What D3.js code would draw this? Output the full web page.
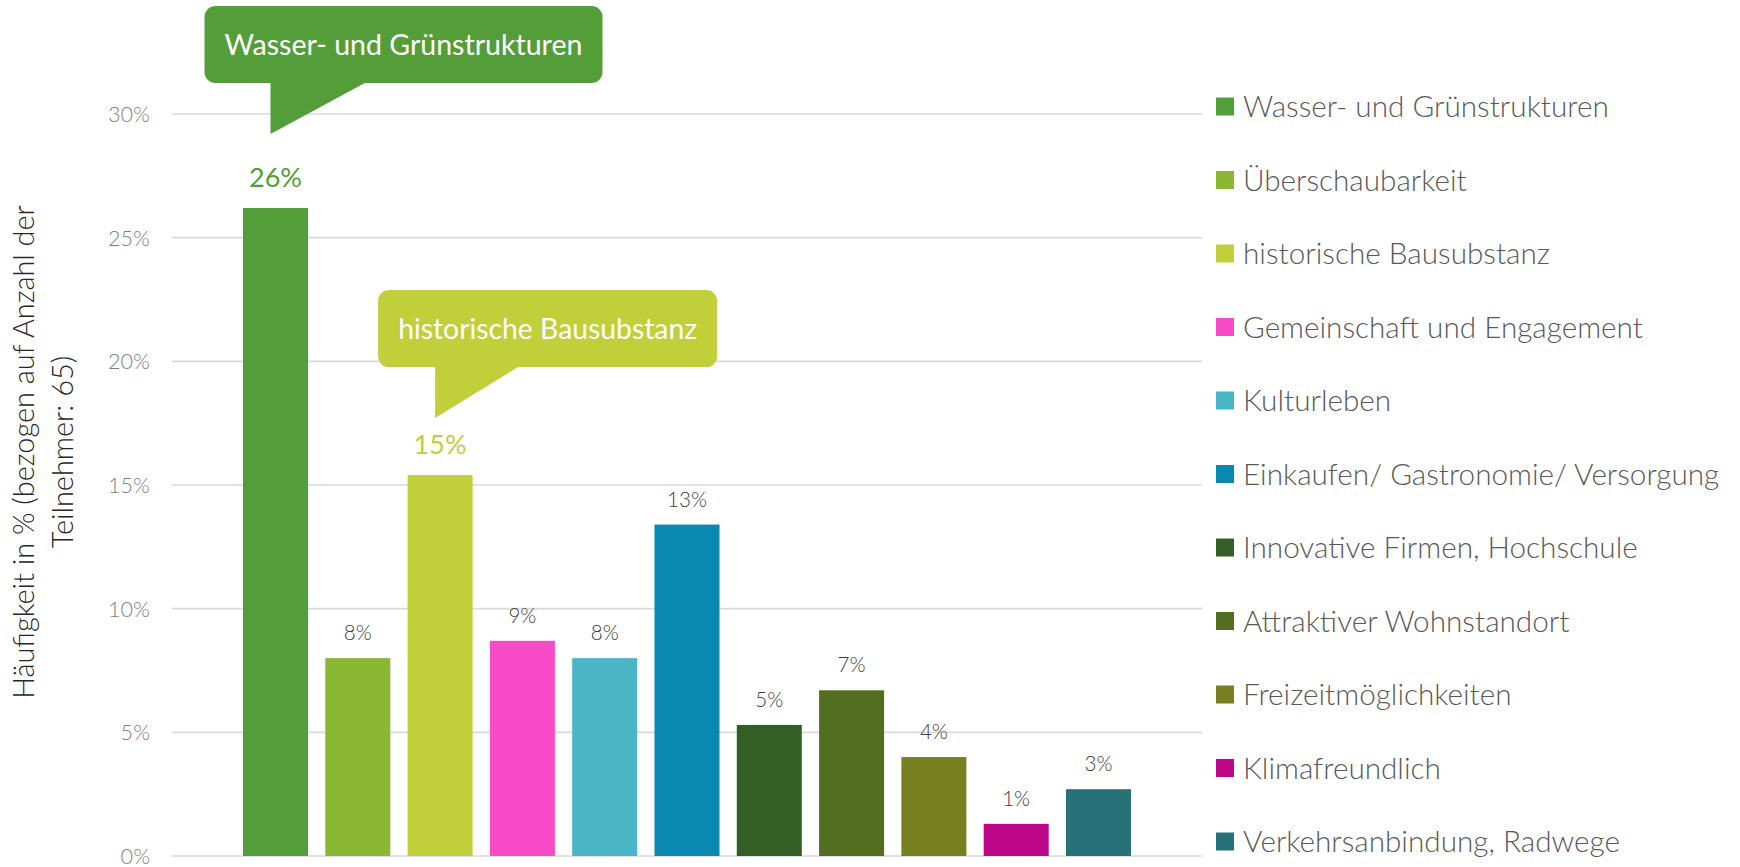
<!DOCTYPE html>
<html>
<head>
<meta charset="utf-8">
<script src="https://cdn.jsdelivr.net/npm/d3@7"></script>
<style>
  html, body { margin: 0; padding: 0; background: #ffffff; }
  svg { display: block; }
</style>
</head>
<body>
<svg id="chart" width="1740" height="867"></svg>
<script>
// ---- data ----
const categories = [
  "Wasser- und Grünstrukturen",
  "Überschaubarkeit",
  "historische Bausubstanz",
  "Gemeinschaft und Engagement",
  "Kulturleben",
  "Einkaufen/ Gastronomie/ Versorgung",
  "Innovative Firmen, Hochschule",
  "Attraktiver Wohnstandort",
  "Freizeitmöglichkeiten",
  "Klimafreundlich",
  "Verkehrsanbindung, Radwege"
];
const values = [26.2, 8.0, 15.4, 8.7, 8.0, 13.4, 5.3, 6.7, 4.0, 1.3, 2.7];
const labels = ["26%", "8%", "15%", "9%", "8%", "13%", "5%", "7%", "4%", "1%", "3%"];
const colors = ["#549E39", "#8AB833", "#C0CF3A", "#F94BC7", "#4AB5C4", "#0989B1",
                "#335E24", "#536E21", "#768021", "#BC0788", "#277179"];
const yTicks = [0, 5, 10, 15, 20, 25, 30];
const yTickLabels = ["0%", "5%", "10%", "15%", "20%", "25%", "30%"];
const highlighted = [0, 2];
const yTitleLines = ["Häufigkeit in % (bezogen auf Anzahl der", "Teilnehmer: 65)"];

// ---- layout ----
const svg = d3.select("#chart");
const FONT = "Lato, 'Open Sans', sans-serif";

const y = d3.scaleLinear().domain([0, 30]).range([856, 114]);
const x = d3.scaleBand().domain(categories).range([243, 1131]).paddingInner(0.21).paddingOuter(0);

function fitSize(sel, base, target) {
  const w = sel.node().getComputedTextLength();
  const s = base * target / w;
  sel.attr("font-size", s);
  return s;
}

// gridlines
const grid = svg.append("g").attr("class", "grid");
grid.selectAll("line").data(yTicks).join("line")
  .attr("x1", 172).attr("x2", 1202)
  .attr("y1", d => y(d)).attr("y2", d => y(d))
  .attr("stroke", "#D9D9D9").attr("stroke-width", 1.6);

// y axis tick labels using d3 axis
const yAxis = d3.axisLeft(y).tickValues(yTicks).tickFormat((d, i) => yTickLabels[i]).tickSize(0).tickPadding(0);
const ga = svg.append("g").attr("transform", "translate(150,0)").call(yAxis);
ga.select(".domain").remove();
ga.selectAll("text").attr("font-family", FONT).attr("font-weight", 300)
  .attr("fill", "#7F7F7F").attr("font-size", 21).attr("dy", "0.35em");
{
  const t = ga.selectAll("text").filter((d) => d === 30);
  const s = fitSize(t, 21, 42);
  ga.selectAll("text").attr("font-size", s);
}

// bars
svg.append("g").selectAll("rect").data(values).join("rect")
  .attr("x", (d, i) => x(categories[i]))
  .attr("width", x.bandwidth())
  .attr("y", d => y(d))
  .attr("height", d => y(0) - y(d))
  .attr("fill", (d, i) => colors[i]);

// data labels
const dl = svg.append("g").selectAll("text").data(values).join("text")
  .attr("x", (d, i) => x(categories[i]) + x.bandwidth() / 2)
  .attr("y", (d, i) => y(d) - (highlighted.includes(i) ? 21 : 18))
  .attr("text-anchor", "middle")
  .attr("font-family", FONT)
  .attr("font-weight", (d, i) => highlighted.includes(i) ? 400 : 300)
  .attr("fill", (d, i) => highlighted.includes(i) ? colors[i] : "#404040")
  .attr("font-size", (d, i) => highlighted.includes(i) ? 28 : 21)
  .text((d, i) => labels[i]);
{
  const n = dl.filter((d, i) => i === 1); const s = fitSize(n, 21, 28);
  dl.filter((d, i) => !highlighted.includes(i)).attr("font-size", s);
  const h = dl.filter((d, i) => i === 0); const s2 = fitSize(h, 28, 53);
  dl.filter((d, i) => highlighted.includes(i)).attr("font-size", s2);
}

// callouts
const calloutCfg = [
  { idx: 0, apexDy: 74, boxDx: -71, tailW: 98, textW: 358 },
  { idx: 2, apexDy: 57, boxDx: -62, tailW: 86, textW: 299 }
];
calloutCfg.forEach(c => {
  const cx = x(categories[c.idx]) + x.bandwidth() / 2;
  const top = y(values[c.idx]);
  const apexX = cx - 5, apexY = top - c.apexDy;
  const boxBottom = apexY - 51, boxH = 77;
  const g = svg.append("g");
  const txt = g.append("text")
    .attr("font-family", FONT).attr("font-weight", 400)
    .attr("fill", "#ffffff").attr("font-size", 28)
    .attr("text-anchor", "middle")
    .text(categories[c.idx]);
  fitSize(txt, 28, c.textW);
  const boxW = c.textW + 40;
  const bx = cx + c.boxDx;
  g.insert("rect", "text")
    .attr("x", bx).attr("y", boxBottom - boxH).attr("width", boxW).attr("height", boxH)
    .attr("rx", 11).attr("fill", colors[c.idx]);
  g.insert("path", "text")
    .attr("d", `M${apexX},${boxBottom - 2}L${apexX},${apexY}L${apexX + c.tailW},${boxBottom - 2}Z`)
    .attr("fill", colors[c.idx]);
  txt.attr("x", bx + boxW / 2).attr("y", boxBottom - boxH / 2).attr("dy", "0.36em");
});

// legend
const lg = svg.append("g");
const items = lg.selectAll("g").data(categories).join("g")
  .attr("transform", (d, i) => `translate(1216,${106.5 + i * 73.5})`);
items.append("rect").attr("x", 0).attr("y", -9).attr("width", 18).attr("height", 18)
  .attr("fill", (d, i) => colors[i]);
const lt = items.append("text").attr("x", 27).attr("dy", "0.36em")
  .attr("font-family", FONT).attr("font-weight", 300)
  .attr("fill", "#595959").attr("font-size", 28).text(d => d);
{
  const s = fitSize(lt.filter((d, i) => i === 0), 28, 366);
  lt.attr("font-size", s);
}

// y axis title
const yt = svg.append("g");
const yl = yt.selectAll("text").data(yTitleLines).join("text")
  .attr("transform", (d, i) => `translate(${i === 0 ? 34 : 73},452) rotate(-90)`)
  .attr("text-anchor", "middle")
  .attr("font-family", FONT)
  .attr("font-weight", 300)
  .attr("fill", "#262626").attr("font-size", 24).text(d => d);
{
  const s = fitSize(yl.filter((d, i) => i === 0), 24, 494);
  yl.attr("font-size", s);
}
</script>
</body>
</html>
